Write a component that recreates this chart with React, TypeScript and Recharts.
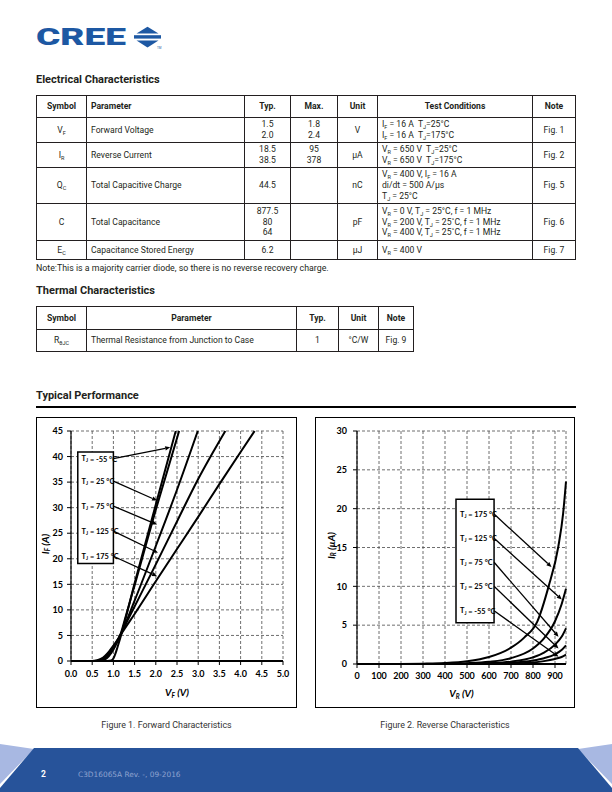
import React from 'react';
import { LineChart, Line, XAxis, YAxis, CartesianGrid, ReferenceArea, ReferenceLine, ReferenceDot } from 'recharts';

const FONT_UI = "Roboto, 'Liberation Sans', Arial, sans-serif";
const FONT_CHART = "Lato, 'Liberation Sans', sans-serif";
const INK = '#231f20';

// ---------- Figure 1: forward characteristics, [VF (V), IF (A)] ----------
const fwdM55: number[][] = [[0, 0], [0.85, 0], [0.95, 0.1], [1.0, 0.5], [1.05, 1.5], [1.1, 2.8], [1.2, 5.6], [1.5, 15.2], [2.0, 30.6], [2.47, 45]];
const fwd25: number[][] = [[0, 0], [0.65, 0], [0.75, 0.1], [0.85, 0.6], [0.95, 1.6], [1.05, 3.0], [1.15, 4.8], [1.3, 9.0], [1.5, 14.8], [2.0, 29.6], [2.55, 45]];
const fwd75: number[][] = [[0, 0], [0.6, 0], [0.7, 0.1], [0.8, 0.5], [0.9, 1.3], [1.0, 2.5], [1.1, 4.0], [1.2, 5.7], [1.5, 11.8], [2.0, 22.5], [2.5, 33.5], [2.99, 45]];
const fwd125: number[][] = [[0, 0], [0.55, 0], [0.65, 0.1], [0.75, 0.5], [0.85, 1.2], [0.95, 2.2], [1.05, 3.4], [1.15, 4.9], [1.3, 7.4], [1.6, 12.3], [2.0, 18.9], [2.5, 27.3], [3.0, 35.6], [3.64, 45]];
const fwd175: number[][] = [[0, 0], [0.5, 0], [0.6, 0.1], [0.7, 0.4], [0.8, 1.0], [0.9, 1.9], [1.0, 3.0], [1.1, 4.2], [1.2, 5.5], [1.5, 9.2], [2.0, 15.6], [2.5, 21.9], [3.0, 28.2], [3.5, 34.6], [4.0, 40.9], [4.33, 45]];
const fwdTicksX = [0, 0.5, 1, 1.5, 2, 2.5, 3, 3.5, 4, 4.5, 5];
const fwdTicksY = [0, 5, 10, 15, 20, 25, 30, 35, 40, 45];
const fwdLegendTemps = ['-55', '25', '75', '125', '175'];
const fwdLegendY = [39.6, 35.2, 30.3, 25.4, 20.5];
const fwdArrowTipX = [2.34, 2.03, 2.03, 2.05, 2.03];
const fwdArrowTipY = [41.8, 31.4, 26.7, 21.2, 16.6];

// ---------- Figure 2: reverse characteristics, [VR (V), IR (uA)] ----------
const rev175: number[][] = [[0, 0], [100, 0], [200, 0.01], [300, 0.04], [400, 0.12], [500, 0.35], [600, 0.9], [700, 2.1], [760, 3.4], [820, 5.5], [870, 9.9], [915, 15.1], [937, 19.4], [950, 23.5]];
const rev125: number[][] = [[0, 0], [300, 0], [400, 0.03], [500, 0.1], [600, 0.28], [700, 0.75], [800, 2.0], [850, 3.3], [900, 5.5], [930, 7.7], [950, 9.7]];
const rev75: number[][] = [[0, 0], [400, 0], [500, 0.03], [600, 0.1], [700, 0.3], [800, 0.85], [850, 1.45], [900, 2.5], [930, 3.5], [950, 4.6]];
const rev25: number[][] = [[0, 0], [500, 0], [600, 0.05], [700, 0.15], [800, 0.45], [850, 0.75], [900, 1.25], [930, 1.8], [950, 2.4]];
const revM55: number[][] = [[0, 0], [500, 0], [600, 0.02], [700, 0.07], [800, 0.2], [850, 0.37], [900, 0.65], [930, 0.9], [950, 1.2]];
const revTicksX = [0, 100, 200, 300, 400, 500, 600, 700, 800, 900];
const revTicksY = [0, 5, 10, 15, 20, 25, 30];
const revLegendTemps = ['175', '125', '75', '25', '-55'];
const revLegendY = [19.3, 16.2, 13.1, 10.0, 6.85];
const revArrowTipX = [884, 931, 916, 916, 916];
const revArrowTipY = [12.5, 8.3, 3.5, 2.0, 0.94];

const toPts = (arr: number[][]) => arr.map(([v, i]) => ({ v, i }));

// ---------- table content ----------
const elecCols = [36, 86, 244, 290, 337, 377, 532, 575];
const elecRows = [95, 117, 142, 167, 203, 240, 259];
const thCols = [36, 86, 296, 338, 378, 413];
const thRows = [306, 329, 351];

function Sb({ m, s }: { m: string; s: string }) {
  return (
    <span>
      {m}
      <span style={{ fontSize: 5.5, position: 'relative', top: 2, lineHeight: 0 }}>{s}</span>
    </span>
  );
}

const elecHeader = ['Symbol', 'Parameter', 'Typ.', 'Max.', 'Unit', 'Test Conditions', 'Note'];
const elecAlign = ['center', 'left', 'center', 'center', 'center', 'left', 'center'];
const elecBody: React.ReactNode[][] = [
  [<Sb m="V" s="F" />, 'Forward Voltage', <>1.5<br />2.0</>, <>1.8<br />2.4</>, 'V',
    <><Sb m="I" s="F" /> = 16 A&nbsp; <Sb m="T" s="J" />=25°C<br /><Sb m="I" s="F" /> = 16 A&nbsp; <Sb m="T" s="J" />=175°C</>, 'Fig. 1'],
  [<Sb m="I" s="R" />, 'Reverse Current', <>18.5<br />38.5</>, <>95<br />378</>, 'µA',
    <><Sb m="V" s="R" /> = 650 V&nbsp; <Sb m="T" s="J" />=25°C<br /><Sb m="V" s="R" /> = 650 V&nbsp; <Sb m="T" s="J" />=175°C</>, 'Fig. 2'],
  [<Sb m="Q" s="C" />, 'Total Capacitive Charge', '44.5', '', 'nC',
    <><Sb m="V" s="R" /> = 400 V, <Sb m="I" s="F" /> = 16 A<br />di/dt = 500 A/µs<br /><Sb m="T" s="J" /> = 25°C</>, 'Fig. 5'],
  ['C', 'Total Capacitance', <>877.5<br />80<br />64</>, '', 'pF',
    <><Sb m="V" s="R" /> = 0 V, <Sb m="T" s="J" /> = 25°C, f = 1 MHz<br /><Sb m="V" s="R" /> = 200 V, <Sb m="T" s="J" /> = 25˚C, f = 1 MHz<br /><Sb m="V" s="R" /> = 400 V, <Sb m="T" s="J" /> = 25˚C, f = 1 MHz</>, 'Fig. 6'],
  [<Sb m="E" s="C" />, 'Capacitance Stored Energy', '6.2', '', 'µJ', <><Sb m="V" s="R" /> = 400 V</>, 'Fig. 7'],
];
const thHeader = ['Symbol', 'Parameter', 'Typ.', 'Unit', 'Note'];
const thAlign = ['center', 'left', 'center', 'center', 'center'];
const thBody: React.ReactNode[][] = [
  [<Sb m="R" s="θJC" />, 'Thermal Resistance from Junction to Case', '1', '°C/W', 'Fig. 9'],
];

function Grid({ cols, rows }: { cols: number[]; rows: number[] }) {
  const x0 = cols[0], x1 = cols[cols.length - 1], y0 = rows[0], y1 = rows[rows.length - 1];
  return (
    <>
      {rows.map((y, k) => (
        <div key={'h' + k} style={{ position: 'absolute', left: x0, top: y, width: x1 - x0 + 1, height: 1, background: INK }} />
      ))}
      {cols.map((x, k) => (
        <div key={'v' + k} style={{ position: 'absolute', left: x, top: y0, width: 1, height: y1 - y0 + 1, background: INK }} />
      ))}
    </>
  );
}

function Cells({ cols, rows, header, align, body, headerAlign }: any) {
  const out: React.ReactNode[] = [];
  const all = [header, ...body];
  all.forEach((row: any[], r: number) => {
    row.forEach((c, k) => {
      const a = r === 0 ? headerAlign[k] : align[k];
      out.push(
        <div key={r + '-' + k} style={{
          position: 'absolute', left: cols[k] + 1, top: rows[r] + 1, width: cols[k + 1] - cols[k] - 1, height: rows[r + 1] - rows[r] - 1,
          display: 'flex', alignItems: 'center', justifyContent: a === 'left' ? 'flex-start' : 'center',
          textAlign: a === 'left' ? 'left' : 'center', paddingLeft: a === 'left' ? 4 : 0, boxSizing: 'border-box',
          fontSize: 8.6, lineHeight: '10.8px', fontWeight: r === 0 ? 700 : 400, color: INK, whiteSpace: 'nowrap',
        }}>
          <div>{c}</div>
        </div>
      );
    });
  });
  return <>{out}</>;
}

function Heading({ top, children }: any) {
  return (
    <div style={{ position: 'absolute', left: 36, top, fontSize: 11, lineHeight: '12px', fontWeight: 700, color: INK, whiteSpace: 'nowrap' }}>
      {children}
    </div>
  );
}

function Logo() {
  const blue = '#1d58a3';
  return (
    <svg style={{ position: 'absolute', left: 0, top: 0 }} width={200} height={60}>
      <text x={36} y={44.5} fontFamily={FONT_UI} fontWeight={900} fontSize={24} fill={blue}
        textLength={90} lengthAdjust="spacingAndGlyphs">CREE</text>
      <polygon points="136.5,33.5 147.5,26.7 158.5,33.5" fill={blue} />
      <rect x={134} y={35.2} width={27} height={3.4} fill={blue} />
      <polygon points="136.5,40.6 147.5,47.6 158.5,40.6" fill={blue} />
      <text x={157} y={49} fontSize={3} fill={blue} fontFamily={FONT_UI}>TM</text>
    </svg>
  );
}

function Footer() {
  return (
    <svg style={{ position: 'absolute', left: 0, top: 730 }} width={612} height={62}>
      <polygon points="0,14 34,19 0,54" fill="#a8b8e2" />
      <polygon points="612,14 578,19 612,54" fill="#a8b8e2" />
      <polygon points="34,18 578,18 612,58 612,62 0,62 0,58" fill="#27539a" />
      <text x={41} y={46.5} fontFamily={FONT_UI} fontWeight={700} fontSize={8.5} fill="#ffffff">2</text>
      <text x={78} y={46.5} fontFamily="'DejaVu Sans', sans-serif" fontSize={7.4} fill="#8ea2cf">C3D16065A Rev. -, 09-2016</text>
    </svg>
  );
}

function TjText({ viewBox, t }: any) {
  const { x, y } = viewBox;
  return (
    <text x={x} y={y} fontFamily={FONT_CHART} fontWeight={700} fontSize={7.4} fill="#000" dominantBaseline="central">
      T<tspan fontSize={4.8} dy={1.8}>J</tspan><tspan dy={-1.8}>{` = ${t} °C`}</tspan>
    </text>
  );
}

function ArrowShape(props: any) {
  const { x1, y1, x2, y2 } = props;
  if ([x1, y1, x2, y2].some((v) => typeof v !== 'number' || isNaN(v))) return null;
  const ang = Math.atan2(y2 - y1, x2 - x1);
  const L = 5, W = 2.2;
  const bx = x2 - L * Math.cos(ang), by = y2 - L * Math.sin(ang);
  const p1 = `${bx + W * Math.sin(ang)},${by - W * Math.cos(ang)}`;
  const p2 = `${bx - W * Math.sin(ang)},${by + W * Math.cos(ang)}`;
  return (
    <g>
      <line x1={x1} y1={y1} x2={bx} y2={by} stroke="#000" strokeWidth={1.3} />
      <polygon points={`${x2},${y2} ${p1} ${p2}`} fill="#000" />
    </g>
  );
}

function XTitle({ viewBox, m, s, u, dy }: any) {
  const cx = viewBox.x + viewBox.width / 2;
  return (
    <text x={cx} y={viewBox.y + dy} textAnchor="middle" fontFamily={FONT_CHART} fontWeight={700} fontStyle="italic" fontSize={10} fill="#000">
      {m}<tspan fontSize={6.5} dy={2}>{s}</tspan><tspan dy={-2}>{u}</tspan>
    </text>
  );
}

function YTitle({ viewBox, m, s, u, cx }: any) {
  const cy = viewBox.y + viewBox.height / 2 - 2;
  return (
    <text x={cx} y={cy} transform={`rotate(-90, ${cx}, ${cy})`} textAnchor="middle" dominantBaseline="central"
      fontFamily={FONT_CHART} fontWeight={700} fontStyle="italic" fontSize={10} fill="#000">
      {m}<tspan fontSize={6.5} dy={2}>{s}</tspan><tspan dy={-2}>{u}</tspan>
    </text>
  );
}

const tickStyle = { fontFamily: FONT_CHART, fontWeight: 700, fontSize: 9, fill: '#000' };

function ForwardChart() {
  const series = [fwdM55, fwd25, fwd75, fwd125, fwd175];
  return (
    <LineChart width={261} height={291} margin={{ top: 14, right: 14, bottom: 0, left: 0 }}>
      <CartesianGrid stroke="#4a4a4a" strokeDasharray="3 2" strokeWidth={0.8} />
      <XAxis type="number" dataKey="v" domain={[0, 5]} ticks={fwdTicksX} interval={0} tickFormatter={(v: number) => v.toFixed(1)}
        height={47} tick={tickStyle} tickSize={4} tickMargin={6} axisLine={{ stroke: '#000', strokeWidth: 2 }} tickLine={{ stroke: '#000' }}
        label={<XTitle m="V" s="F" u=" (V)" dy={34.5} />} />
      <YAxis type="number" domain={[0, 45]} ticks={fwdTicksY} interval={0} width={35} tick={tickStyle} tickSize={4} tickMargin={4}
        axisLine={{ stroke: '#000', strokeWidth: 1.2 }} tickLine={{ stroke: '#000' }}
        label={<YTitle m="I" s="F" u=" (A)" cx={9} />} />
      {series.map((s, k) => (
        <Line key={k} data={toPts(s)} dataKey="i" type="monotone" stroke="#000" strokeWidth={2} dot={false} isAnimationActive={false} />
      ))}
      <ReferenceArea x1={0.16} x2={1.0} y1={19.1} y2={40.9} fill="#fff" fillOpacity={1} stroke="#000" strokeWidth={1.5} />
      {fwdLegendTemps.map((t, k) => (
        <ReferenceLine key={'a' + k} segment={[{ x: 1.0, y: fwdLegendY[k] }, { x: fwdArrowTipX[k], y: fwdArrowTipY[k] }]}
          shape={(p: any) => <ArrowShape {...p} />} />
      ))}
      {fwdLegendTemps.map((t, k) => (
        <ReferenceDot key={'t' + k} x={0.25} y={fwdLegendY[k]} r={0} fill="none" stroke="none" label={<TjText t={t} />} />
      ))}
    </LineChart>
  );
}

function ReverseChart() {
  const series = [rev175, rev125, rev75, rev25, revM55];
  return (
    <LineChart width={260} height={291} margin={{ top: 14, right: 9, bottom: 0, left: 0 }}>
      <CartesianGrid stroke="#4a4a4a" strokeDasharray="3 2" strokeWidth={0.8} />
      <XAxis type="number" dataKey="v" domain={[0, 950]} ticks={revTicksX} interval={0}
        height={44} tick={tickStyle} tickSize={4} tickMargin={5} axisLine={{ stroke: '#000', strokeWidth: 2 }} tickLine={{ stroke: '#000' }}
        label={<XTitle m="V" s="R" u=" (V)" dy={32.5} />} />
      <YAxis type="number" domain={[0, 30]} ticks={revTicksY} interval={0} width={42} tick={tickStyle} tickSize={4} tickMargin={6}
        axisLine={{ stroke: '#000', strokeWidth: 1.2 }} tickLine={{ stroke: '#000' }}
        label={<YTitle m="I" s="R" u=" (µA)" cx={16} />} />
      {series.map((s, k) => (
        <Line key={k} data={toPts(s)} dataKey="i" type="monotone" stroke="#000" strokeWidth={2} dot={false} isAnimationActive={false} />
      ))}
      <ReferenceArea x1={450} x2={623} y1={5.3} y2={21.2} fill="#fff" fillOpacity={1} stroke="#000" strokeWidth={1.5} />
      {revLegendTemps.map((t, k) => (
        <ReferenceLine key={'a' + k} segment={[{ x: 623, y: revLegendY[k] }, { x: revArrowTipX[k], y: revArrowTipY[k] }]}
          shape={(p: any) => <ArrowShape {...p} />} />
      ))}
      {revLegendTemps.map((t, k) => (
        <ReferenceDot key={'t' + k} x={468} y={revLegendY[k]} r={0} fill="none" stroke="none" label={<TjText t={t} />} />
      ))}
    </LineChart>
  );
}

function ChartBox({ left, width, children }: any) {
  return (
    <>
      <div style={{ position: 'absolute', left, top: 417, width, height: 291, border: '1px solid #000', boxSizing: 'border-box' }} />
      <div style={{ position: 'absolute', left, top: 417, width, height: 291 }}>{children}</div>
    </>
  );
}

export default function App() {
  return (
    <div style={{ position: 'absolute', left: 0, top: 0, width: 612, height: 792, background: '#fff', overflow: 'hidden', fontFamily: FONT_UI, color: INK }}>
      <Logo />
      <Heading top={74}>Electrical Characteristics</Heading>
      <Grid cols={elecCols} rows={elecRows} />
      <Cells cols={elecCols} rows={elecRows} header={elecHeader} headerAlign={['center', 'left', 'center', 'center', 'center', 'center', 'center']} align={elecAlign} body={elecBody} />
      <div style={{ position: 'absolute', left: 36, top: 262.5, fontSize: 8.8, lineHeight: '11px', whiteSpace: 'nowrap' }}>
        Note:This is a majority carrier diode, so there is no reverse recovery charge.
      </div>
      <Heading top={285}>Thermal Characteristics</Heading>
      <Grid cols={thCols} rows={thRows} />
      <Cells cols={thCols} rows={thRows} header={thHeader} headerAlign={['center', 'center', 'center', 'center', 'center']} align={thAlign} body={thBody} />
      <Heading top={390}>Typical Performance</Heading>
      <div style={{ position: 'absolute', left: 36, top: 406, width: 540, height: 2, background: '#000' }} />
      <ChartBox left={36} width={261}><ForwardChart /></ChartBox>
      <ChartBox left={315} width={260}><ReverseChart /></ChartBox>
      <div style={{ position: 'absolute', left: 36, width: 261, top: 719.5, textAlign: 'center', fontSize: 8.9, lineHeight: '11px', color: '#333' }}>
        Figure 1. Forward Characteristics
      </div>
      <div style={{ position: 'absolute', left: 315, width: 260, top: 719.5, textAlign: 'center', fontSize: 8.9, lineHeight: '11px', color: '#333' }}>
        Figure 2. Reverse Characteristics
      </div>
      <Footer />
    </div>
  );
}
